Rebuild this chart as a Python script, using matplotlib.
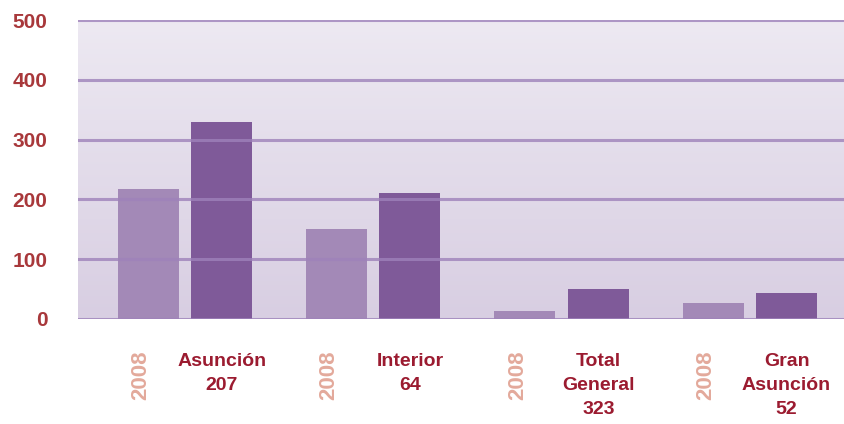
import numpy as np
import matplotlib.pyplot as plt
import matplotlib.transforms as mtransforms
from matplotlib.colors import LinearSegmentedColormap

# Data
categories = [["Asunción", "207"], ["Interior", "64"], ["Total", "General", "323"], ["Gran", "Asunción", "52"]]
year_label = "2008"
values_2008 = [217, 150, 14, 26]
values_other = [329, 210, 51, 44]
y_ticks = [0, 100, 200, 300, 400, 500]

plt.rcParams['font.family'] = ['Liberation Sans Narrow', 'Liberation Sans', 'DejaVu Sans']

fig = plt.figure(figsize=(8.44, 4.24), dpi=100)
ax = fig.add_axes([78 / 844, 105 / 424, 766 / 844, 299 / 424])

x = np.arange(len(categories))
off = 0.195
w = 0.324

# gradient background
cmap = LinearSegmentedColormap.from_list("bg", ["#D8CEE2", "#EDE9F2"])
ax.imshow(np.linspace(0, 1, 256).reshape(-1, 1), cmap=cmap, origin="lower",
          extent=[-0.568, 3.5, 0, 500], aspect="auto", zorder=0)

ax.bar(x - off, values_2008, width=w, color="#A389B7", zorder=2)
ax.bar(x + off, values_other, width=w, color="#7F5A99", zorder=2)

for t in y_ticks:
    ax.axhline(t, color="#9E82BA", lw=2.2, alpha=0.8, zorder=3)

ax.set_xlim(-0.568, 3.5)
ax.set_ylim(0, 500)
ax.set_yticks(y_ticks)
ax.set_yticklabels([str(t) for t in y_ticks], color="#A8383B", fontsize=15, fontweight="bold")
ax.tick_params(axis="y", length=0, pad=22)
ax.set_xticks([])
for s in ax.spines.values():
    s.set_visible(False)

# category labels under the bars
trans = mtransforms.blended_transform_factory(ax.transData, fig.transFigure)
for i, lines in enumerate(categories):
    ax.text(i - off - 0.04, 1 - 375 / 424, year_label, rotation=90, transform=trans,
            ha="center", va="center", color="#E3A99B", fontsize=16, fontweight="bold")
    for j, line in enumerate(lines):
        ax.text(i + off, 1 - (361 + j * 24.5) / 424, line, transform=trans,
                ha="center", va="center", color="#9B1B30", fontsize=14, fontweight="bold")

fig.savefig("out.png", dpi=100)
